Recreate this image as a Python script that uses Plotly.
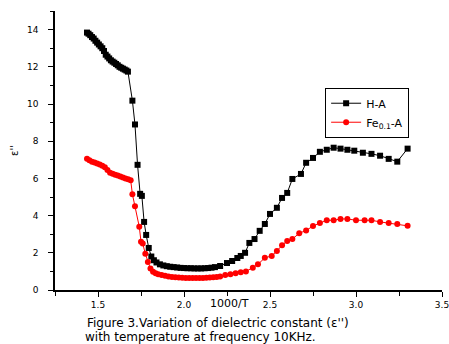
import plotly.graph_objects as go

# H-A sample: dielectric loss vs 1000/T
ha_x = [1.436, 1.445, 1.455, 1.465, 1.475, 1.485, 1.495, 1.505, 1.515, 1.525,
        1.535, 1.545, 1.555, 1.565, 1.575, 1.585, 1.595, 1.605, 1.615, 1.625,
        1.635, 1.645, 1.655, 1.665, 1.674, 1.70, 1.715, 1.73, 1.745, 1.755,
        1.768, 1.78, 1.795, 1.81, 1.825, 1.84, 1.86, 1.88, 1.90, 1.92,
        1.94, 1.96, 1.98, 2.00, 2.02, 2.04, 2.06, 2.08, 2.10, 2.12,
        2.14, 2.16, 2.18, 2.21, 2.25, 2.28, 2.31, 2.33, 2.355, 2.38,
        2.41, 2.44, 2.47, 2.50, 2.54, 2.57, 2.60, 2.63, 2.68, 2.71,
        2.75, 2.79, 2.83, 2.87, 2.91, 2.95, 2.99, 3.04, 3.09, 3.14,
        3.19, 3.24, 3.30]
ha_y = [13.84, 13.78, 13.70, 13.60, 13.52, 13.40, 13.30, 13.20, 13.10, 13.00,
        12.85, 12.65, 12.55, 12.45, 12.35, 12.28, 12.22, 12.15, 12.08, 12.00,
        11.95, 11.90, 11.85, 11.80, 11.74, 10.18, 8.90, 6.73, 5.17, 5.06,
        3.66, 2.96, 2.26, 1.80, 1.60, 1.48, 1.38, 1.32, 1.28, 1.25,
        1.23, 1.21, 1.19, 1.18, 1.17, 1.17, 1.16, 1.16, 1.16, 1.17,
        1.18, 1.20, 1.23, 1.29, 1.45, 1.56, 1.72, 1.83, 2.00, 2.53,
        2.74, 3.18, 3.55, 4.09, 4.42, 4.95, 5.22, 5.97, 6.24, 6.84,
        7.10, 7.43, 7.54, 7.65, 7.60, 7.54, 7.49, 7.38, 7.32, 7.22,
        7.05, 6.90, 7.60]

# Fe0.1-A sample
fe_x = [1.436, 1.45, 1.465, 1.48, 1.495, 1.51, 1.525, 1.54, 1.555, 1.57,
        1.585, 1.60, 1.615, 1.63, 1.645, 1.66, 1.675, 1.69, 1.70, 1.715,
        1.74, 1.75, 1.76, 1.775, 1.79, 1.805, 1.82, 1.835, 1.85, 1.87,
        1.89, 1.91, 1.93, 1.95, 1.97, 1.99, 2.01, 2.03, 2.05, 2.07,
        2.09, 2.11, 2.13, 2.15, 2.17, 2.19, 2.21, 2.24, 2.27, 2.30,
        2.33, 2.36, 2.40, 2.43, 2.47, 2.51, 2.54, 2.57, 2.60, 2.63,
        2.67, 2.71, 2.75, 2.79, 2.83, 2.87, 2.91, 2.95, 3.00, 3.05,
        3.09, 3.14, 3.19, 3.24, 3.30]
fe_y = [7.05, 6.98, 6.90, 6.85, 6.80, 6.75, 6.68, 6.60, 6.45, 6.30,
        6.25, 6.20, 6.15, 6.10, 6.05, 6.00, 5.95, 5.90, 5.15, 4.50,
        3.40, 2.60, 2.50, 1.95, 1.50, 1.15, 0.98, 0.90, 0.85, 0.80,
        0.76, 0.73, 0.70, 0.68, 0.67, 0.66, 0.65, 0.65, 0.65, 0.65,
        0.65, 0.65, 0.66, 0.67, 0.68, 0.70, 0.73, 0.80, 0.85, 0.90,
        0.95, 1.00, 1.20, 1.38, 1.73, 1.83, 2.10, 2.40, 2.64, 2.74,
        3.05, 3.20, 3.44, 3.60, 3.75, 3.75, 3.82, 3.82, 3.75, 3.75,
        3.75, 3.66, 3.60, 3.55, 3.45]

x_ticks = [1.5, 2.0, 2.5, 3.0, 3.5]
x_tick_text = ["1.5", "2.0", "2.5", "3.0", "3.5"]
y_ticks = [0, 2, 4, 6, 8, 10, 12, 14]

caption_lines = [
    "Figure 3.Variation of dielectric constant (ε'')",
    "with temperature at frequency 10KHz.",
]

FONT = "DejaVu Sans, Verdana, sans-serif"

fig = go.Figure()
fig.add_trace(go.Scatter(
    x=ha_x, y=ha_y, mode="lines+markers", name="H-A",
    line=dict(color="black", width=1),
    marker=dict(symbol="square", size=6, color="black"),
))
fig.add_trace(go.Scatter(
    x=fe_x, y=fe_y, mode="lines+markers", name="Fe<sub>0.1</sub>-A",
    line=dict(color="red", width=1),
    marker=dict(symbol="circle", size=6, color="red"),
))

axis_common = dict(
    showline=True, linecolor="black", linewidth=1.5,
    ticks="outside", ticklen=5, tickwidth=1, tickcolor="black",
    showgrid=False, zeroline=False, mirror=False,
    ticklabeloverflow="allow",
    tickfont=dict(family=FONT, size=9, color="black"),
)

fig.update_xaxes(
    range=[1.25, 3.5], tickvals=x_ticks, ticktext=x_tick_text,
    minor=dict(dtick=0.25, tick0=1.25, ticks="outside", ticklen=4,
               tickwidth=1, tickcolor="black"),
    **axis_common,
)
fig.update_yaxes(
    range=[0, 15], tickvals=y_ticks, ticklabelstandoff=8,
    minor=dict(dtick=1, tick0=0, ticks="outside", ticklen=3,
               tickwidth=1, tickcolor="black"),
    title=dict(text="ε''", standoff=6,
               font=dict(family=FONT, size=10, color="black")),
    **axis_common,
)

caption_font = dict(family=FONT, size=12, color="black")

fig.update_layout(
    width=449, height=344,
    margin=dict(l=55, r=7, t=11, b=54, autoexpand=False),
    paper_bgcolor="white", plot_bgcolor="white",
    font=dict(family=FONT, color="black"),
    showlegend=True,
    legend=dict(
        x=0.698, y=0.725, xanchor="left", yanchor="top",
        bgcolor="white", bordercolor="black", borderwidth=1,
        font=dict(family=FONT, size=11, color="black"),
        tracegroupgap=0, itemwidth=30,
    ),
    annotations=[
        dict(text="1000/T", xref="paper", yref="paper",
             x=0.45, y=-0.05, xanchor="center", yanchor="middle",
             showarrow=False, font=dict(family=FONT, size=11, color="black")),
        dict(text=caption_lines[0], xref="paper", yref="paper",
             x=0.078, y=-0.12, xanchor="left", yanchor="middle",
             showarrow=False, font=caption_font),
        dict(text=caption_lines[1], xref="paper", yref="paper",
             x=0.073, y=-0.167, xanchor="left", yanchor="middle",
             showarrow=False, font=caption_font),
    ],
)

fig.write_html("out.html")
